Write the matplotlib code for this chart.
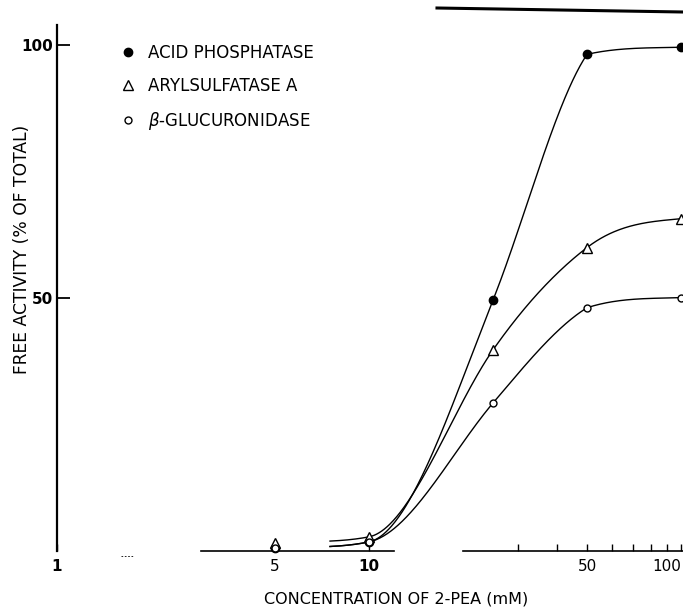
import numpy as np
import matplotlib
matplotlib.use("Agg")
import matplotlib.pyplot as plt
from matplotlib.lines import Line2D

# 2-PEA concentration (mM) and free activity (% of total)
conc = [5, 10, 25, 50, 100]
acid_phosphatase = [0.5, 1.8, 49.7, 98.2, 99.6]
arylsulfatase = [1.6, 2.8, 39.8, 60.0, 65.7]
glucuronidase = [0.5, 1.8, 29.3, 48.1, 50.1]

xtick_vals = [1, 5, 10, 50, 100]
xtick_labels = ["1", "5", "10", "50", "100"]
ytick_vals = [50, 100]


def smooth(x, y, xn):
    # hermite curve through the points, only used to draw the line like the
    # hand-drawn one (knee allowed where the curve levels off)
    x = np.asarray(x, float)
    y = np.asarray(y, float)
    h = np.diff(x)
    d = np.diff(y) / h
    m = np.zeros_like(y)
    m[1:-1] = 1.1 * (d[:-1] + d[1:]) / 2
    m[0] = d[0]
    m[-1] = d[-1] * 0.3
    out = np.zeros_like(xn)
    for k in range(len(d)):
        m0 = min(m[k], 3 * d[k], 3 * d[k - 1] if k > 0 else np.inf)
        m1 = min(m[k + 1], 3 * d[k])
        sel = (xn >= x[k]) & (xn <= x[k + 1])
        t = (xn[sel] - x[k]) / h[k]
        out[sel] = ((2 * t**3 - 3 * t**2 + 1) * y[k] + (t**3 - 2 * t**2 + t) * h[k] * m0
                    + (-2 * t**3 + 3 * t**2) * y[k + 1] + (t**3 - t**2) * h[k] * m1)
    return out


fig = plt.figure(figsize=(6.83, 6.07), dpi=100)
ax = fig.add_axes([57 / 683, 56 / 607, 626 / 683, 526 / 607])
ax.set_xscale("log")
ax.set_xlim(1, 10 ** (626 / 312))
ax.set_ylim(0, 104)

lx = np.log10(conc)
grid = np.linspace(np.log10(7.5), 2, 400)
for vals, mk, face, ms, lab in [
    (acid_phosphatase, "o", "black", 6, "ACID PHOSPHATASE"),
    (arylsulfatase, "^", "white", 7, "ARYLSULFATASE A"),
    (glucuronidase, "o", "white", 5, r"$\beta$-GLUCURONIDASE"),
]:
    ax.plot(10 ** grid, smooth(lx, vals, grid), color="black", lw=1.0, zorder=2)
    ax.plot(conc, vals, ls="none", marker=mk, ms=ms, mfc=face, mec="black",
            mew=1.0, clip_on=False, zorder=3, label=lab)

# spines: only the left axis, bottom drawn as broken hand-drawn pieces
for s in ["top", "right", "bottom"]:
    ax.spines[s].set_visible(False)
ax.spines["left"].set_linewidth(1.6)
ax.plot([2.9, 12], [0, 0], color="black", lw=1.2, clip_on=False)
ax.plot([20, 104], [0, 0], color="black", lw=1.2, clip_on=False)
ax.plot([1.6, 1.75], [-1, -1], color="black", lw=0.6, ls=(0, (2, 2)), clip_on=False)

ax.set_yticks(ytick_vals)
ax.set_yticklabels(["50", "100"], fontsize=11, fontweight="bold")
ax.tick_params(axis="y", direction="in", length=9, width=1.3, pad=3)

ax.set_xticks(xtick_vals)
ax.set_xticklabels(xtick_labels, fontsize=11)
xl = ax.get_xticklabels()
xl[0].set_fontweight("bold")
xl[2].set_fontweight("bold")
xl[4].set_horizontalalignment("right")
ax.set_xticks([30, 40, 60, 70, 80, 90], minor=True)
ax.xaxis.set_minor_formatter(plt.NullFormatter())
ax.tick_params(axis="x", which="both", direction="in", length=5, width=1.0, pad=6)

ax.set_xlabel("CONCENTRATION OF 2-PEA (mM)", fontsize=11.5)
ax.xaxis.set_label_coords((396 - 57) / 626, -(591 - 551) / 526)
ax.set_ylabel("FREE ACTIVITY (% OF TOTAL)", fontsize=12.3)
ax.yaxis.set_label_coords(-(57 - 31) / 626, (551 - 249) / 526)

leg = ax.legend(loc="upper left", bbox_to_anchor=((120 - 57) / 626, (551 - 44) / 526),
                frameon=False, borderpad=0, handlelength=1.0, handletextpad=0.7,
                labelspacing=0.9, fontsize=12, borderaxespad=0)

# scan artifact: heavy rule across the top right
fig.add_artist(Line2D([437 / 683, 1.0], [1 - 8 / 607, 1 - 12 / 607], color="black", lw=2.2))

fig.savefig("out.png", dpi=100)
